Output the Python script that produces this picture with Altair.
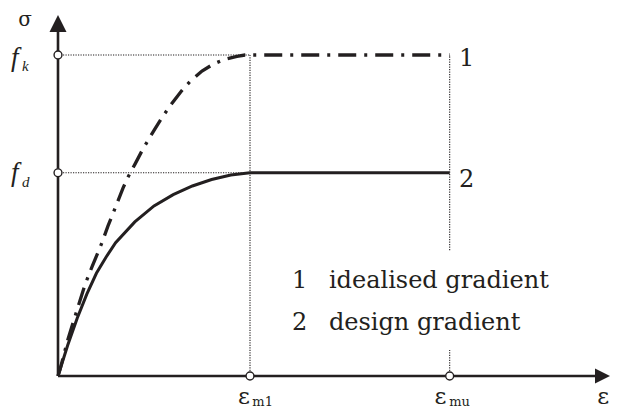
import altair as alt
import pandas as pd

INK = "#231f20"

# ---- characteristic values (diagram units: eps_m1 = 1, f_k = 1) ----
eps_m1 = 1.0
eps_mu = 2.04
f_k = 1.0
f_d = 0.633

# curve 1 : idealised gradient (dash-dot)
curve1_x = [0.0, 0.010, 0.052, 0.104, 0.141, 0.177, 0.229, 0.260, 0.307, 0.339, 0.365,
            0.401, 0.443, 0.505, 0.547, 0.594, 0.646, 0.688, 0.750, 0.810, 0.870, 0.932,
            0.974, 2.04]
curve1_y = [0.0, 0.019, 0.115, 0.215, 0.285, 0.340, 0.415, 0.467, 0.537, 0.586, 0.620,
            0.660, 0.708, 0.770, 0.810, 0.850, 0.890, 0.918, 0.950, 0.972, 0.987, 0.996,
            1.0, 1.0]

# curve 2 : design gradient (solid)
curve2_x = [0.0, 0.05, 0.10, 0.15, 0.20, 0.25, 0.30, 0.40, 0.50, 0.60, 0.70, 0.80,
            0.90, 1.00, 2.04]
curve2_y = [0.0, 0.095, 0.180, 0.255, 0.320, 0.370, 0.415, 0.480, 0.530, 0.565, 0.592,
            0.612, 0.626, 0.633, 0.633]

# axes extent (arrow bases) and arrow centres
x_axis_end = 2.80
y_axis_end = 1.072
x_arrow = 2.836
y_arrow = 1.098

# gaps in the eps_mu guide line
mu_guide_low = 0.081
mu_guide_high = 0.392

# text labels
legend_nums = ["1", "2"]
legend_texts = ["idealised gradient", "design gradient"]
legend_y = [0.274, 0.143]
legend_num_x = 1.219
legend_text_x = 1.411
curve_label_x = 2.089
curve_label_y = [0.966, 0.590]

X_DOM = [-0.26042, 2.875]
Y_DOM = [-0.1028, 1.14642]
xs = alt.Scale(domain=X_DOM, nice=False, zero=False)
ys = alt.Scale(domain=Y_DOM, nice=False, zero=False)


def ex(f="x"):
    return alt.X(f, type="quantitative", scale=xs, axis=None)


def ey(f="y"):
    return alt.Y(f, type="quantitative", scale=ys, axis=None)


# dotted guide lines
guides = pd.DataFrame({
    "x": [0.0, 0.0, eps_m1, eps_mu, eps_mu],
    "x2": [eps_m1, eps_m1, eps_m1, eps_mu, eps_mu],
    "y": [f_k, f_d, 0.0, mu_guide_high, 0.0],
    "y2": [f_k, f_d, f_k, f_k, mu_guide_low],
})
guide_layer = alt.Chart(guides).mark_rule(
    color=INK, strokeWidth=1.1, strokeDash=[1.2, 1.3]
).encode(x=ex(), x2="x2", y=ey(), y2="y2")

axes = pd.DataFrame({"x": [0.0, 0.0], "x2": [x_axis_end, 0.0],
                     "y": [0.0, 0.0], "y2": [0.0, y_axis_end]})
axis_layer = alt.Chart(axes).mark_rule(color=INK, strokeWidth=2.6).encode(
    x=ex(), x2="x2", y=ey(), y2="y2")

arrow_r = alt.Chart(pd.DataFrame({"x": [x_arrow], "y": [0.0]})).mark_point(
    shape="M1,0L-1,-1L-1,1Z", filled=True, color=INK, size=225, opacity=1
).encode(x=ex(), y=ey())
arrow_u = alt.Chart(pd.DataFrame({"x": [0.0], "y": [y_arrow]})).mark_point(
    shape="M0,-1L-1,1L1,1Z", filled=True, color=INK, size=289, opacity=1
).encode(x=ex(), y=ey())

c1 = pd.DataFrame({"x": curve1_x, "y": curve1_y, "o": list(range(len(curve1_x)))})
c2 = pd.DataFrame({"x": curve2_x, "y": curve2_y, "o": list(range(len(curve2_x)))})

curve1_layer = alt.Chart(c1).mark_line(
    color=INK, strokeWidth=3.3, strokeDash=[18, 8, 3, 8], strokeCap="butt"
).encode(x=ex(), y=ey(), order="o:Q")
curve2_layer = alt.Chart(c2).mark_line(color=INK, strokeWidth=3.0).encode(
    x=ex(), y=ey(), order="o:Q")

circles = pd.DataFrame({"x": [0.0, 0.0, eps_m1, eps_mu], "y": [f_k, f_d, 0.0, 0.0]})
circle_layer = alt.Chart(circles).mark_point(
    shape="circle", filled=True, fill="white", stroke=INK, strokeWidth=1.4,
    size=62, opacity=1
).encode(x=ex(), y=ey())

SERIF = "DejaVu Serif"


def text_layer(df, size, align="left", font=SERIF, style="normal"):
    return alt.Chart(df).mark_text(
        font=font, fontSize=size, align=align, baseline="alphabetic",
        color=INK, fontStyle=style
    ).encode(x=ex(), y=ey(), text="t:N")


legend_df = pd.DataFrame({
    "x": [legend_num_x] * 2 + [legend_text_x] * 2,
    "y": legend_y + legend_y,
    "t": legend_nums + legend_texts,
})
curve_lab_df = pd.DataFrame({"x": [curve_label_x] * 2, "y": curve_label_y, "t": legend_nums})

sigma_df = pd.DataFrame({"x": [-0.172], "y": [1.090], "t": ["σ"]})
eps_df = pd.DataFrame({"x": [0.969, 1.992, 2.839], "y": [-0.0882] * 3, "t": ["ε", "ε", "ε"]})
eps_sub_df = pd.DataFrame({"x": [1.012, 2.038], "y": [-0.0935] * 2, "t": ["m1", "mu"]})
f_df = pd.DataFrame({"x": [-0.245, -0.245], "y": [0.966, 0.607], "t": ["f", "f"]})
f_sub_df = pd.DataFrame({"x": [-0.188, -0.188], "y": [0.950, 0.589], "t": ["k", "d"]})

chart = alt.layer(
    guide_layer,
    axis_layer,
    arrow_r,
    arrow_u,
    curve2_layer,
    curve1_layer,
    circle_layer,
    text_layer(legend_df, 24),
    text_layer(curve_lab_df, 24),
    text_layer(sigma_df, 20, align="center"),
    text_layer(eps_df, 23, align="center"),
    text_layer(eps_sub_df, 13),
    text_layer(f_df, 27, font="Liberation Serif", style="italic"),
    text_layer(f_sub_df, 15, font="Liberation Serif", style="italic"),
).properties(
    width=602, height=401, autosize=alt.AutoSizeParams(type="none"), padding=0,
    background="white"
).configure_view(stroke=None)

chart.save("out.html", embed_options={"renderer": "svg", "actions": False})
